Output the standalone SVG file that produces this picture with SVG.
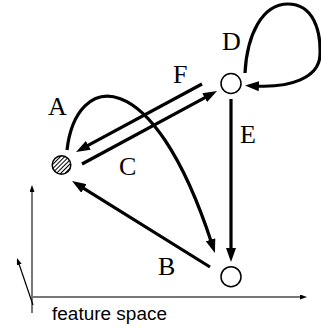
<svg xmlns="http://www.w3.org/2000/svg" width="321" height="329" viewBox="0 0 321 329">
  <style>
    .edge { fill: none; stroke: #000; stroke-width: 3.2; marker-end: url(#ah); }
    .node { stroke: #000; stroke-width: 1.5; }
    .lbl { font-family: "Liberation Serif", "Times New Roman", serif; font-size: 26px; fill: #000; }
    .axis { fill: none; stroke: #777; stroke-width: 2; marker-end: url(#sa); }
    .cap { font-family: "Liberation Sans", Arial, sans-serif; font-size: 17.5px; fill: #000; }
  </style>
  <defs>
    <marker id="ah" viewBox="0 0 14 10" markerWidth="14" markerHeight="10" markerUnits="userSpaceOnUse" refX="4" refY="5" orient="auto">
      <path d="M0,0 L14,5 L0,10 z" fill="#000"/>
    </marker>
    <marker id="sa" viewBox="0 0 7 5" markerWidth="7" markerHeight="5" markerUnits="userSpaceOnUse" refX="2" refY="2.5" orient="auto">
      <path d="M0,0 L7,2.5 L0,5 z" fill="#000"/>
    </marker>
    <pattern id="hatch" patternUnits="userSpaceOnUse" width="3" height="3" patternTransform="rotate(45)">
      <rect width="3" height="3" fill="#fff"/>
      <line x1="0.5" y1="0" x2="0.5" y2="3" stroke="#000" stroke-width="1"/>
    </pattern>
  </defs>

  <g id="axes">
    <path class="axis" d="M32,313 L32,190"/>
    <path class="axis" d="M32,297 L302,297"/>
    <path d="M33,305 L18.6,262.7" fill="none" stroke="#000" stroke-width="1.2" marker-end="url(#sa)"/>
    <text class="cap" x="52" y="320" textLength="115" lengthAdjust="spacingAndGlyphs">feature space</text>
  </g>

  <g id="connectors">
    <path id="edge-F" class="edge" d="M202,84 L84.8,147.2"/>
    <path id="edge-C" class="edge" d="M82,164 L208.2,95.8"/>
    <path id="edge-B" class="edge" d="M210,267 L80.5,186.3"/>
    <path id="edge-E" class="edge" d="M231,99 L231,252"/>
    <path id="edge-A" class="edge" d="M67,150 C76,72 152,60 211.8,243.5"/>
    <path id="edge-D" class="edge" d="M245,73 C247,35 262,4 288,4 C313,4 321,30 320,55 C319,78 290,88 255,86"/>
  </g>

  <g id="node-A">
    <circle class="node" cx="61.5" cy="165" r="9.3" fill="url(#hatch)"/>
  </g>
  <g id="node-D">
    <circle class="node" cx="231" cy="83.5" r="10" fill="#fff"/>
  </g>
  <g id="node-B">
    <circle class="node" cx="231" cy="276.7" r="10" fill="#fff"/>
  </g>

  <g id="labels">
    <text class="lbl" x="48" y="115">A</text>
    <text class="lbl" x="158" y="275">B</text>
    <text class="lbl" x="119" y="175">C</text>
    <text class="lbl" x="222" y="50">D</text>
    <text class="lbl" x="240" y="143">E</text>
    <text class="lbl" x="173" y="83">F</text>
  </g>
</svg>
